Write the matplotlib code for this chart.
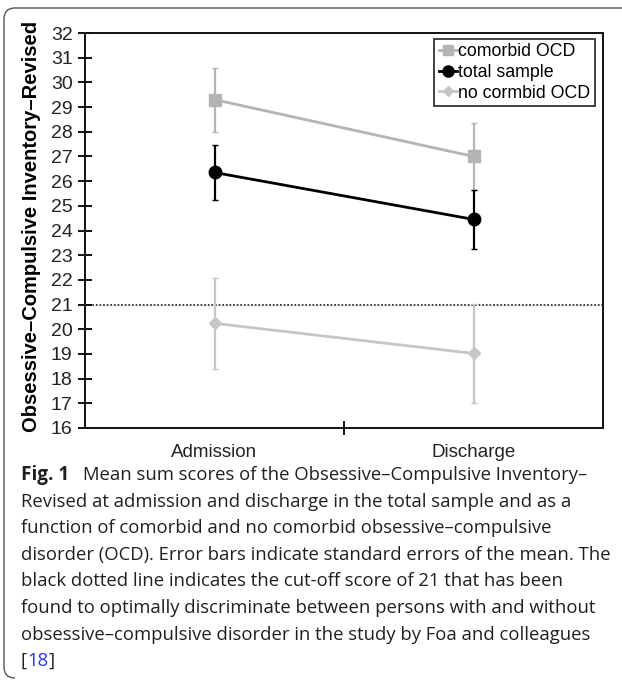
import matplotlib
matplotlib.use("Agg")
import matplotlib.pyplot as plt
from matplotlib.path import Path
from matplotlib.patches import PathPatch
from matplotlib.lines import Line2D

# data
timepoints = ["Admission", "Discharge"]
comorbid_mean = [29.3, 27.0]
comorbid_err = [1.3, 1.35]
total_mean = [26.35, 24.45]
total_err = [1.1, 1.2]
nocomorbid_mean = [20.24, 19.02]
nocomorbid_err = [1.84, 2.0]
cutoff = 21
y_ticks = list(range(16, 33))

caption_lines = [
    "Revised at admission and discharge in the total sample and as a",
    "function of comorbid and no comorbid obsessive\u2013compulsive",
    "disorder (OCD). Error bars indicate standard errors of the mean. The",
    "black dotted line indicates the cut-off score of 21 that has been",
    "found to optimally discriminate between persons with and without",
    "obsessive\u2013compulsive disorder in the study by Foa and colleagues",
]
caption_first = "Mean sum scores of the Obsessive\u2013Compulsive Inventory\u2013"

plt.rcParams["font.family"] = ["Liberation Sans", "DejaVu Sans"]

W, H = 622, 681
fig = plt.figure(figsize=(W / 100, H / 100), dpi=100)
ax = fig.add_axes([85 / W, 1 - 428 / H, (603 - 85) / W, (428 - 33) / H])

x = [0, 1]
light = "#b4b4b4"
lighter = "#c6c6c6"

ax.axhline(cutoff, color="#333333", lw=1.3, ls=(0, (1, 1)), zorder=1)

ax.errorbar(x, comorbid_mean, yerr=comorbid_err, color=light, lw=2,
            marker="s", ms=8, capsize=2.5, elinewidth=1.6, zorder=3,
            label="comorbid OCD")
ax.errorbar(x, total_mean, yerr=total_err, color="black", lw=2,
            marker="o", ms=9, capsize=2.5, elinewidth=1.6, zorder=4,
            label="total sample")
ax.errorbar(x, nocomorbid_mean, yerr=nocomorbid_err, color=lighter, lw=2,
            marker="D", ms=6, capsize=2.5, elinewidth=1.6, zorder=3,
            label="no cormbid OCD")

ax.set_xlim(-0.5, 1.5)
ax.set_ylim(16, 32)
ax.set_yticks(y_ticks)
ax.set_yticklabels([str(t) for t in y_ticks], fontsize=14, color="#222222")
ax.set_xticks([0.5])
ax.set_xticklabels([""])
ax.tick_params(axis="both", direction="inout", length=10, width=1.3,
               pad=4)
for i in range(len(timepoints)):
    ax.text(x[i], 15.0, timepoints[i], ha="center", va="center",
            fontsize=13.5, color="#222222")

for s in ax.spines.values():
    s.set_linewidth(1.4)
    s.set_color("#111111")

ax.set_ylabel("Obsessive\u2013Compulsive Inventory\u2013Revised",
              fontsize=14.5, fontweight="bold")
ax.yaxis.set_label_coords(-44 / 518, 0.51)

handles = [
    Line2D([], [], color=light, marker="s", ms=7, lw=2),
    Line2D([], [], color="black", marker="o", ms=8, lw=2),
    Line2D([], [], color=lighter, marker="D", ms=5, lw=2),
]
leg = fig.legend(handles, ["comorbid OCD", "total sample", "no cormbid OCD"],
                 loc="upper right", bbox_to_anchor=(595 / W, 1 - 39 / H),
                 fontsize=12.8, frameon=True, fancybox=False,
                 handlelength=1.0, handletextpad=0.1, borderpad=0.25,
                 labelspacing=0.2, borderaxespad=0)
leg.get_frame().set_edgecolor("black")
leg.get_frame().set_linewidth(1.3)

# caption
cap_font = ["Open Sans", "DejaVu Sans"]
cap_size = 13.3
cap_color = "#231f20"
y0 = 475
step = 26.6
fig.text(21 / W, 1 - y0 / H, "Fig. 1", fontsize=cap_size + 0.3,
         fontweight="bold", family=cap_font, color=cap_color, va="center")
fig.text(83 / W, 1 - y0 / H, caption_first, fontsize=cap_size,
         family=cap_font, color=cap_color, va="center")
for i in range(len(caption_lines)):
    fig.text(21 / W, 1 - (y0 + step * (i + 1)) / H, caption_lines[i],
             fontsize=cap_size, family=cap_font, color=cap_color,
             va="center")
yl = 1 - (y0 + step * 7) / H
t1 = fig.text(21 / W, yl, "[", fontsize=cap_size, family=cap_font,
              color=cap_color, va="center")
fig.canvas.draw()
r = fig.canvas.get_renderer()
bb = t1.get_window_extent(r)
t2 = fig.text(bb.x1 / W, yl, "18", fontsize=cap_size, family=cap_font,
              color="#2b3bd9", va="center")
bb2 = t2.get_window_extent(r)
fig.text(bb2.x1 / W, yl, "]", fontsize=cap_size, family=cap_font,
         color=cap_color, va="center")

# outer rounded border (top and left sides only)
rad = 11
pts = [(W, 8), (4 + rad, 8), (4, 8), (4, 8 + rad), (4, 678 - rad),
       (4, 678), (4 + rad, 678)]
codes = [Path.MOVETO, Path.LINETO, Path.CURVE3, Path.CURVE3, Path.LINETO,
         Path.CURVE3, Path.CURVE3]
pts = [(px / W, 1 - py / H) for px, py in pts]
fig.patches.append(PathPatch(Path(pts, codes), fill=False, edgecolor="#555555",
                             lw=1.0, transform=fig.transFigure))

fig.savefig("out.png", dpi=100)
